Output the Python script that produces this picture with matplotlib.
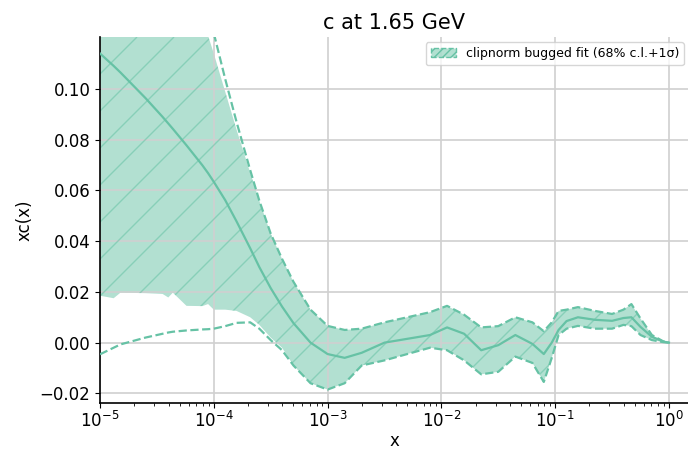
import numpy as np
import matplotlib.pyplot as plt
from matplotlib.collections import LineCollection
from matplotlib.patches import Patch

# log10(x) grid
log_x = [-5.0, -4.88, -4.82, -4.6, -4.45, -4.4, -4.36, -4.24, -4.1, -4.05,
         -4.0, -3.9, -3.8, -3.68, -3.6, -3.5, -3.4, -3.3, -3.15, -3.0,
         -2.85, -2.7, -2.5, -2.3, -2.1, -1.95, -1.8, -1.65, -1.5, -1.35,
         -1.2, -1.1, -1.03, -0.97, -0.9, -0.8, -0.65, -0.5, -0.4, -0.33,
         -0.25, -0.15, -0.05, 0.0]

# central value
central = [0.114, 0.1091, 0.1065, 0.0964, 0.089, 0.0864, 0.0843, 0.0778, 0.0699, 0.0668,
           0.0634, 0.0562, 0.0478, 0.0372, 0.0298, 0.0215, 0.0142, 0.0077, 0.0, -0.0045,
           -0.006, -0.004, 0.000, 0.0015, 0.003, 0.006, 0.0035, -0.003, -0.001, 0.003,
           -0.0005, -0.0045, 0.000, 0.005, 0.0085, 0.010, 0.009, 0.0086, 0.0097, 0.010,
           0.0062, 0.0023, 0.0004, 0.0]

# 68% c.l. band
cl_high = [0.2, 0.2, 0.2, 0.2, 0.2, 0.2, 0.2, 0.2, 0.128, 0.121,
           0.114, 0.099, 0.084, 0.067, 0.056, 0.043, 0.033, 0.024, 0.013, 0.0066,
           0.005, 0.0055, 0.008, 0.010, 0.012, 0.0145, 0.011, 0.006, 0.0065, 0.010,
           0.008, 0.0045, 0.008, 0.0125, 0.013, 0.014, 0.0125, 0.0113, 0.013, 0.0152,
           0.0095, 0.003, 0.0005, 0.0]
cl_low = [0.0185, 0.0175, 0.0197, 0.0195, 0.0192, 0.0178, 0.0197, 0.0145, 0.0144, 0.0152,
          0.013, 0.013, 0.0125, 0.010, 0.007, 0.002, -0.002, -0.009, -0.016, -0.0185,
          -0.016, -0.009, -0.007, -0.0045, -0.002, -0.003, -0.007, -0.0125, -0.0115, -0.0055,
          -0.008, -0.0155, -0.006, 0.003, 0.0055, 0.0066, 0.0055, 0.0055, 0.007, 0.0065,
          0.003, 0.001, 0.0002, 0.0]

# 1 sigma band (dashed)
sd_high = [0.2, 0.2, 0.2, 0.2, 0.2, 0.2, 0.2, 0.2, 0.2, 0.13,
           0.122, 0.104, 0.087, 0.068, 0.056, 0.043, 0.033, 0.024, 0.013, 0.0066,
           0.005, 0.0055, 0.008, 0.010, 0.012, 0.0145, 0.011, 0.006, 0.0065, 0.010,
           0.008, 0.0045, 0.008, 0.0125, 0.013, 0.014, 0.0125, 0.0113, 0.013, 0.0152,
           0.0095, 0.003, 0.0005, 0.0]
sd_low = [-0.0046, -0.002, -0.0007, 0.002, 0.0035, 0.004, 0.0043, 0.0048, 0.0052, 0.0053,
          0.0055, 0.0065, 0.0078, 0.008, 0.0055, 0.001, -0.003, -0.009, -0.016, -0.0185,
          -0.016, -0.009, -0.007, -0.0045, -0.002, -0.003, -0.007, -0.0125, -0.0115, -0.0055,
          -0.008, -0.0155, -0.006, 0.003, 0.0055, 0.0066, 0.0055, 0.0055, 0.007, 0.0065,
          0.003, 0.001, 0.0002, 0.0]

label = 'clipnorm bugged fit (68% c.l.+1σ)'
color = '#66c2a5'

x = 10.0 ** np.array(log_x)

fig = plt.figure(figsize=(6.88, 4.49), dpi=100)
ax_l, ax_b, ax_w, ax_h = 100, 46, 589, 366  # pixels
ax = fig.add_axes([ax_l / 688, ax_b / 449, ax_w / 688, ax_h / 449])

band = ax.fill_between(x, cl_low, cl_high, color=color, alpha=0.5, lw=0, zorder=1)
ax.plot(x, central, color=color, lw=1.6, zorder=3)
ax.plot(x, sd_high, color=color, lw=1.6, ls='--', zorder=3)
ax.plot(x, sd_low, color=color, lw=1.6, ls='--', zorder=3)

# sparse diagonal hatch, clipped to the band
step = 37
segs = []
for off in np.arange(-ax_h, ax_w + step, step):
    segs.append([(off / ax_w, 0), ((off + ax_h) / ax_w, 1)])
hatch = LineCollection(segs, colors=color, linewidths=1.0, alpha=0.55,
                       transform=ax.transAxes, zorder=2)
ax.add_collection(hatch)
hatch.set_clip_path(band.get_paths()[0], ax.transData)

ax.set_xscale('log')
ax.set_xlim(1e-5, 1.5)
ax.set_ylim(-0.0238, 0.1205)
ax.set_yticks([-0.02, 0.0, 0.02, 0.04, 0.06, 0.08, 0.10])
ax.grid(True, color='#d0d0d0', lw=1.2)
ax.spines['top'].set_visible(False)
ax.spines['right'].set_visible(False)
ax.spines['left'].set_linewidth(1.2)
ax.spines['bottom'].set_linewidth(1.2)
ax.tick_params(labelsize=12)
ax.tick_params(axis='x', pad=2)

ax.set_title('c at 1.65 GeV', fontsize=15)
ax.set_xlabel('x', fontsize=12, labelpad=1)
ax.set_ylabel('xc(x)', fontsize=12)

handle = Patch(facecolor=(0.4, 0.76, 0.647, 0.5), edgecolor=color, hatch='////', ls='--')
ax.legend([handle], [label], loc='upper right', fontsize=9, borderaxespad=0.4)

fig.savefig('out.png', dpi=100)
